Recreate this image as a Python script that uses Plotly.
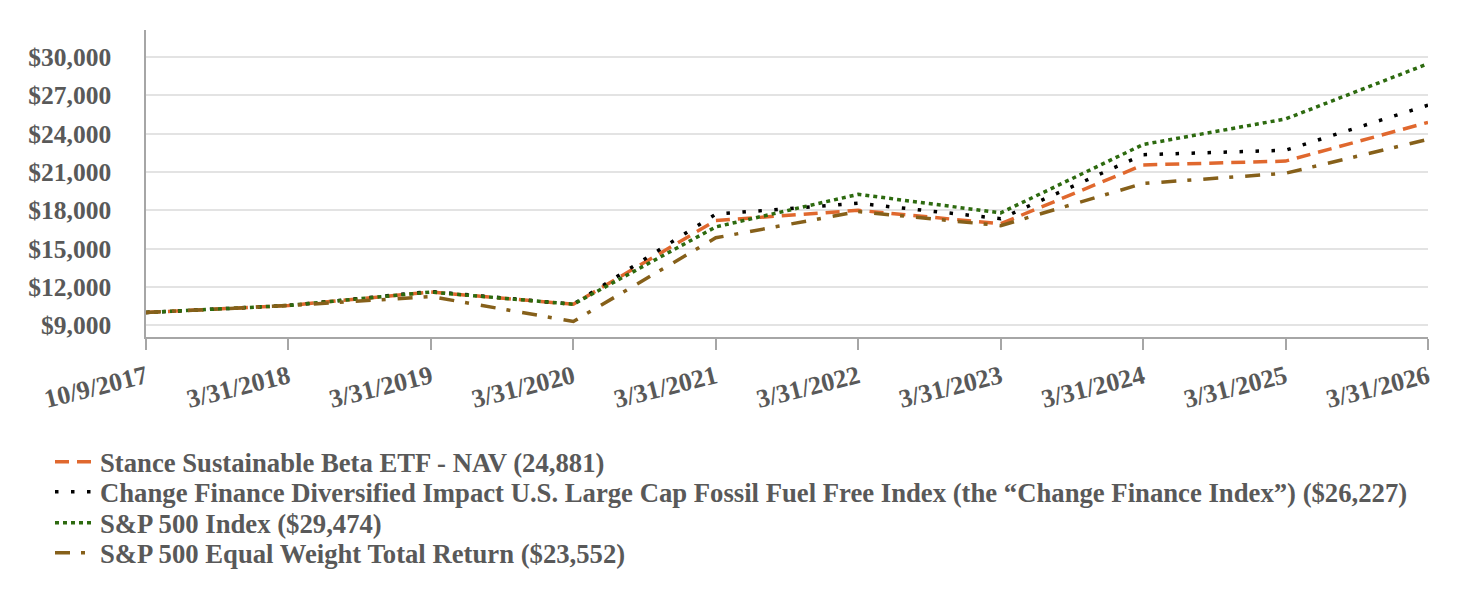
import plotly.graph_objects as go

dates = ["10/9/2017", "3/31/2018", "3/31/2019", "3/31/2020", "3/31/2021",
         "3/31/2022", "3/31/2023", "3/31/2024", "3/31/2025", "3/31/2026"]

stance = [10000, 10550, 11600, 10650, 17200, 18000, 16950, 21550, 21850, 24881]
change_fin = [10000, 10550, 11650, 10650, 17700, 18550, 17350, 22350, 22700, 26227]
sp500 = [10000, 10550, 11600, 10650, 16700, 19250, 17800, 23150, 25150, 29474]
sp500_ew = [10000, 10550, 11250, 9300, 15850, 17900, 16800, 20100, 20900, 23552]

names = [
    "Stance Sustainable Beta ETF - NAV (24,881)",
    "Change Finance Diversified Impact U.S. Large Cap Fossil Fuel Free Index (the \u201cChange Finance Index\u201d) ($26,227)",
    "S&P 500 Index ($29,474)",
    "S&P 500 Equal Weight Total Return ($23,552)",
]

y_ticks = [9000, 12000, 15000, 18000, 21000, 24000, 27000, 30000]
y_ticktext = ["$9,000", "$12,000", "$15,000", "$18,000", "$21,000", "$24,000", "$27,000", "$30,000"]

FONT = "Liberation Serif"
TXT = "#595959"

series = [
    (stance, "#E0682E", "14px,8px"),
    (change_fin, "#000000", "3.5px,12.5px"),
    (sp500, "#2D6A0F", "4px,4px"),
    (sp500_ew, "#86601A", "15px,11px,4px,12px"),
]

legend_ids = ["legend", "legend2", "legend3", "legend4"]
legend_y = [462, 492, 523, 553]

fig = go.Figure()
for (vals, color, dash), name, lid in zip(series, names, legend_ids):
    fig.add_trace(go.Scatter(
        x=dates, y=vals, name=name, mode="lines", legend=lid,
        line=dict(color=color, width=3.5, dash=dash),
    ))

legend_common = dict(
    xref="container", yref="container",
    xanchor="left", yanchor="middle",
    font=dict(family=FONT, size=26.7, color=TXT, weight="bold"),
    itemwidth=40, bgcolor="rgba(0,0,0,0)", borderwidth=0,
)
legends = {}
for lid, ly in zip(legend_ids, legend_y):
    legends[lid] = dict(legend_common, x=50 / 1458, y=1 - ly / 614)

fig.update_layout(
    width=1458, height=614,
    margin=dict(l=146, r=30, t=30, b=277, autoexpand=False),
    paper_bgcolor="white", plot_bgcolor="white",
    font=dict(family=FONT, color=TXT, size=22),
    showlegend=True,
    **legends,
    xaxis=dict(
        type="category", range=[0, 9],
        showgrid=False, showline=True, linecolor="#A6A6A6", linewidth=1.5,
        ticks="outside", ticklen=11, tickcolor="#A6A6A6", tickwidth=1.5,
        tickangle=-14, ticklabelstandoff=2,
        tickfont=dict(family=FONT, size=26, color=TXT, weight="bold"),
        zeroline=False,
    ),
    yaxis=dict(
        range=[8084, 32113],
        tickvals=y_ticks, ticktext=y_ticktext,
        showgrid=True, gridcolor="#E3E3E3", gridwidth=1.5,
        showline=True, linecolor="#A6A6A6", linewidth=1.5,
        ticks="", ticklabelstandoff=28,
        tickfont=dict(family=FONT, size=25.5, color=TXT, weight="bold"),
        zeroline=False,
    ),
)

fig.write_html("out.html")
